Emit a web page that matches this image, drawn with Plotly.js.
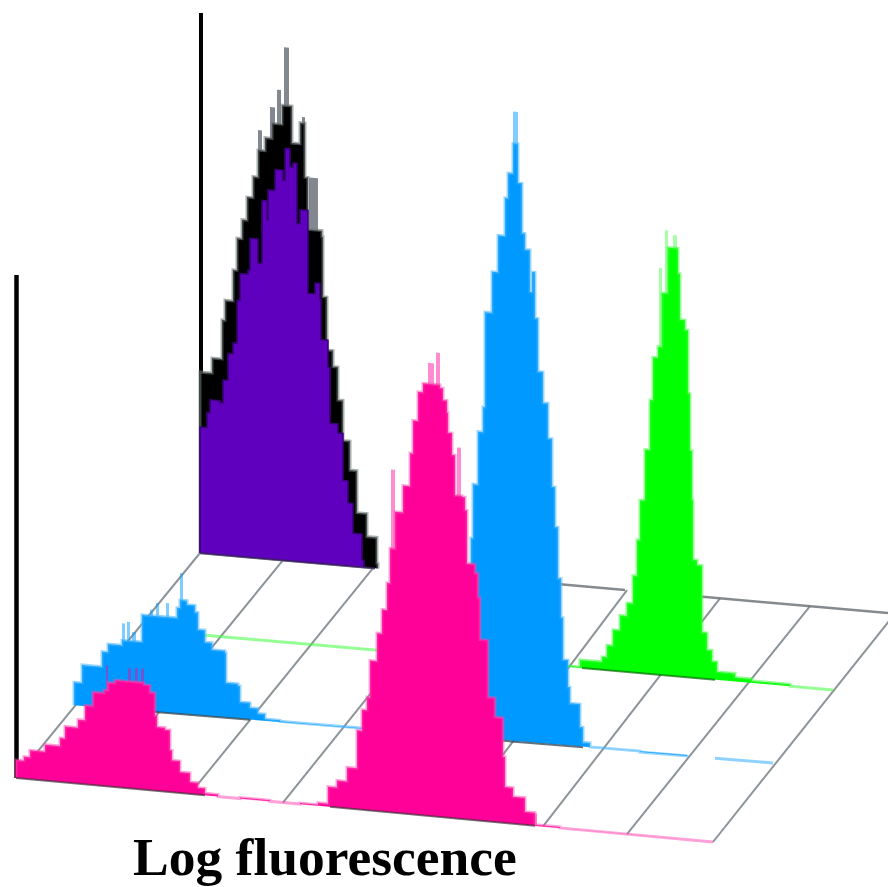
<!DOCTYPE html>
<html>
<head>
<meta charset="utf-8">
<script src="https://cdn.plot.ly/plotly-3.0.1.min.js"></script>
<style>
html,body{margin:0;padding:0;background:#fff}
#chart{width:888px;height:887px;filter:blur(0.7px)}
</style>
</head>
<body>
<div id="chart"></div>
<script>
// Histogram heights along each row of the pseudo-3D floor (log fluorescence position -> count height)
const blackX=[200,200,205,212,222,225,233,237,242,247,253,258,265,272,282,292,300,305,308,322,323,327,333,338,343,350,357,367,377,378];
const blackH=[0,181,181,196,235,255,286,318,337,360,381,408,421,436,455,418,439,385,333,327,267,214,198,165,125,96,54,31,5,0];
const blackSpikeX0=[258,270,277,284,302,309];
const blackSpikeX1=[262,275,281,289,305,318];
const blackSpikeH=[428,452,470,513,445,385];
const purpleX=[200,200,207,210,220,223,228,233,237,240,248,250,258,262,267,268,275,283,285,290,293,297,300,307,308,315,320,321,328,330,338,343,348,353,362,364];
const purpleH=[0,126,141,154,152,175,202,213,256,283,287,319,295,358,339,369,390,380,412,394,398,338,352,352,269,280,264,224,197,141,132,85,63,33,7,0];
const greenX=[203,375,567,580,602,607,613,620,627,633,637,640,645,650,653,658,662,668,673,678,680,685,688,690,692,693,697,702,707,712,717,735,752,790,833];
const greenH=[0,0,1,8,13,25,41,56,69,97,133,173,224,274,317,328,382,428,428,403,357,347,284,227,178,118,113,46,29,18,8,4,2,0,0];
const greenSpikeX0=[659,665,673];
const greenSpikeX1=[662,668,677];
const greenSpikeH=[407,445,441];
const blueX=[74,74,82,102,108,122,142,177,180,187,195,198,205,212,225,226,238,240,250,258,265,280,300,340,470,471,473,478,483,485,492,498,505,508,513,518,522,525,530,532,535,538,543,548,552,555,558,561,563,568,570,580,583,590,640,687];
const blueH=[0,23,41,56,64,69,96,106,114,110,103,86,74,67,65,35,33,17,12,7,2,1,1,1,0,200,254,307,332,427,468,505,543,568,598,559,509,493,451,471,425,372,341,306,258,218,167,128,86,59,43,20,5,1,0,1];
const blueSpikeX0=[122,127,132,150,156,166,180,513];
const blueSpikeX1=[125,130,136,153,159,169,183,518];
const blueSpikeH=[86,88,78,102,109,110,141,630];
const blueTailX=[715,745,773];
const blueTailH=[0,0,0];
const pinkX=[16,16,24,30,45,60,65,78,85,93,104,108,115,144,150,155,157,165,170,172,180,190,198,205,218,240,270,300,318,328,337,347,357,362,367,370,377,382,387,390,395,403,410,413,418,423,440,443,447,448,452,455,462,465,467,475,478,480,488,495,503,505,513,525,535,560,600,660,713];
const pinkH=[0,18,22,29,36,44,56,64,79,93,96,104,107,105,98,75,64,62,42,32,21,12,7,2,0,1,0,1,3,20,27,41,79,100,113,150,178,202,229,264,301,328,361,394,423,432,429,417,405,385,363,323,322,309,256,247,223,181,124,105,66,36,27,13,1,0,0,0,0];
const pinkSpikeX0=[106,128,135,141,391,428,436,457,533];
const pinkSpikeX1=[108,131,138,144,395,434,440,461,537];
const pinkSpikeH=[121,120,121,121,343,453,464,371,12];
// Floor geometry: the x and y of the two ends of each row, and the grid line ends
const backRowX=[200,900];  const backRowY=[553,614];
const greenRowX=[203,833]; const greenRowY=[635,690];
const blueRowX=[155,773];  const blueRowY=[712,763];
const frontRowX=[16,713];  const frontRowY=[778,842];
const gridFrontX=[16,99,190,283,368,455,543,627,713];
const gridBackX=[200,283,373,465,545,627,720,810,895];
const backSegX=[[200,375],[560,625],[700,888]];
const blueSegX=[[155,250],[497,583]];
const greenSegX=[[582,715]];
const frontSegX=[[16,205],[330,535]];
const axisPurpleX=[201,201]; const axisPurpleY=[13,553];
const axisPinkX=[16.5,16.5]; const axisPinkY=[275,778];
const titleText='Log fluorescence';

function rowY(rx,ry,x){return ry[0]+(ry[1]-ry[0])*(x-rx[0])/(rx[1]-rx[0]);}
// Steps follow the slanted floor: each bar top runs parallel to its row
function hist(xs,hs,rx,ry,fill,line,w){
  const X=[],Y=[];
  xs.forEach((x,i)=>{
    X.push(x);Y.push(rowY(rx,ry,x)-hs[i]);
    if(i<xs.length-1){X.push(xs[i+1]);Y.push(rowY(rx,ry,xs[i+1])-hs[i]);}
  });
  return {x:X,y:Y,mode:'lines',line:{color:line,width:w},fill:'toself',fillcolor:fill,hoverinfo:'skip',showlegend:false};
}
function spikes(x0,x1,hs,rx,ry,fill){
  const X=[],Y=[];
  hs.forEach((h,i)=>{
    const a=x0[i],b=x1[i];
    X.push(a,a,b,b,a,null);
    Y.push(rowY(rx,ry,a),rowY(rx,ry,a)-h,rowY(rx,ry,b)-h,rowY(rx,ry,b),rowY(rx,ry,a),null);
  });
  return {x:X,y:Y,mode:'lines',line:{width:0,color:fill},fill:'toself',fillcolor:fill,hoverinfo:'skip',showlegend:false};
}
function segs(list,rx,ry,color,w){
  const X=[],Y=[];
  list.forEach(s=>{X.push(s[0],s[1],null);Y.push(rowY(rx,ry,s[0]),rowY(rx,ry,s[1]),null);});
  return {x:X,y:Y,mode:'lines',line:{color:color,width:w},hoverinfo:'skip',showlegend:false};
}
function gridLines(){
  const X=[],Y=[];
  gridFrontX.forEach((fx,i)=>{
    const bx=gridBackX[i];
    X.push(fx,bx,null);Y.push(rowY(frontRowX,frontRowY,fx),rowY(backRowX,backRowY,bx),null);
  });
  return {x:X,y:Y,mode:'lines',line:{color:'rgba(110,122,128,0.8)',width:2},hoverinfo:'skip',showlegend:false};
}
function vline(x,y,w){return {x:x,y:y,mode:'lines',line:{color:'#000',width:w},hoverinfo:'skip',showlegend:false};}

const traces=[
  gridLines(),
  segs(backSegX,backRowX,backRowY,'rgba(110,118,122,0.85)',2.5),
  vline(axisPurpleX,axisPurpleY,4),
  vline(axisPinkX,axisPinkY,4.5),
  spikes(blackSpikeX0,blackSpikeX1,blackSpikeH,backRowX,backRowY,'rgba(90,95,105,0.75)'),
  hist(blackX,blackH,backRowX,backRowY,'#000000','rgba(110,120,120,0.6)',3),
  hist(purpleX,purpleH,backRowX,backRowY,'#5f00bf','#3a0078',1.5),
  segs([[200,375]],backRowX,backRowY,'rgba(60,30,100,0.7)',2),
  spikes(greenSpikeX0,greenSpikeX1,greenSpikeH,greenRowX,greenRowY,'rgba(0,255,0,0.35)'),
  hist(greenX,greenH,greenRowX,greenRowY,'#00ff00','rgba(60,255,60,0.55)',3),
  segs(greenSegX,greenRowX,greenRowY,'rgba(0,110,0,0.7)',2),
  spikes(blueSpikeX0,blueSpikeX1,blueSpikeH,blueRowX,blueRowY,'rgba(0,153,255,0.5)'),
  hist(blueX,blueH,blueRowX,blueRowY,'#0099ff','rgba(70,180,255,0.55)',3),
  hist(blueTailX,blueTailH,blueRowX,blueRowY,'#0099ff','rgba(70,180,255,0.6)',3),
  segs(blueSegX,blueRowX,blueRowY,'rgba(50,70,80,0.75)',2),
  spikes(pinkSpikeX0,pinkSpikeX1,pinkSpikeH,frontRowX,frontRowY,'rgba(255,0,153,0.45)'),
  hist(pinkX,pinkH,frontRowX,frontRowY,'#ff0099','rgba(255,70,175,0.5)',3),
  segs(frontSegX,frontRowX,frontRowY,'rgba(70,50,60,0.7)',2)
];
const layout={
  width:888,height:887,margin:{l:0,r:0,t:0,b:0},
  paper_bgcolor:'#fff',plot_bgcolor:'#fff',showlegend:false,
  xaxis:{range:[0,888],visible:false,fixedrange:true},
  yaxis:{range:[887,0],visible:false,fixedrange:true},
  annotations:[{xref:'x',yref:'y',x:325,y:856.5,text:'<b>'+titleText+'</b>',showarrow:false,
    xanchor:'center',yanchor:'middle',font:{family:'"Liberation Serif","DejaVu Serif",serif',size:53.5,color:'#000'}}]
};
Plotly.newPlot('chart',traces,layout,{displayModeBar:false,staticPlot:true});
</script>
</body>
</html>
